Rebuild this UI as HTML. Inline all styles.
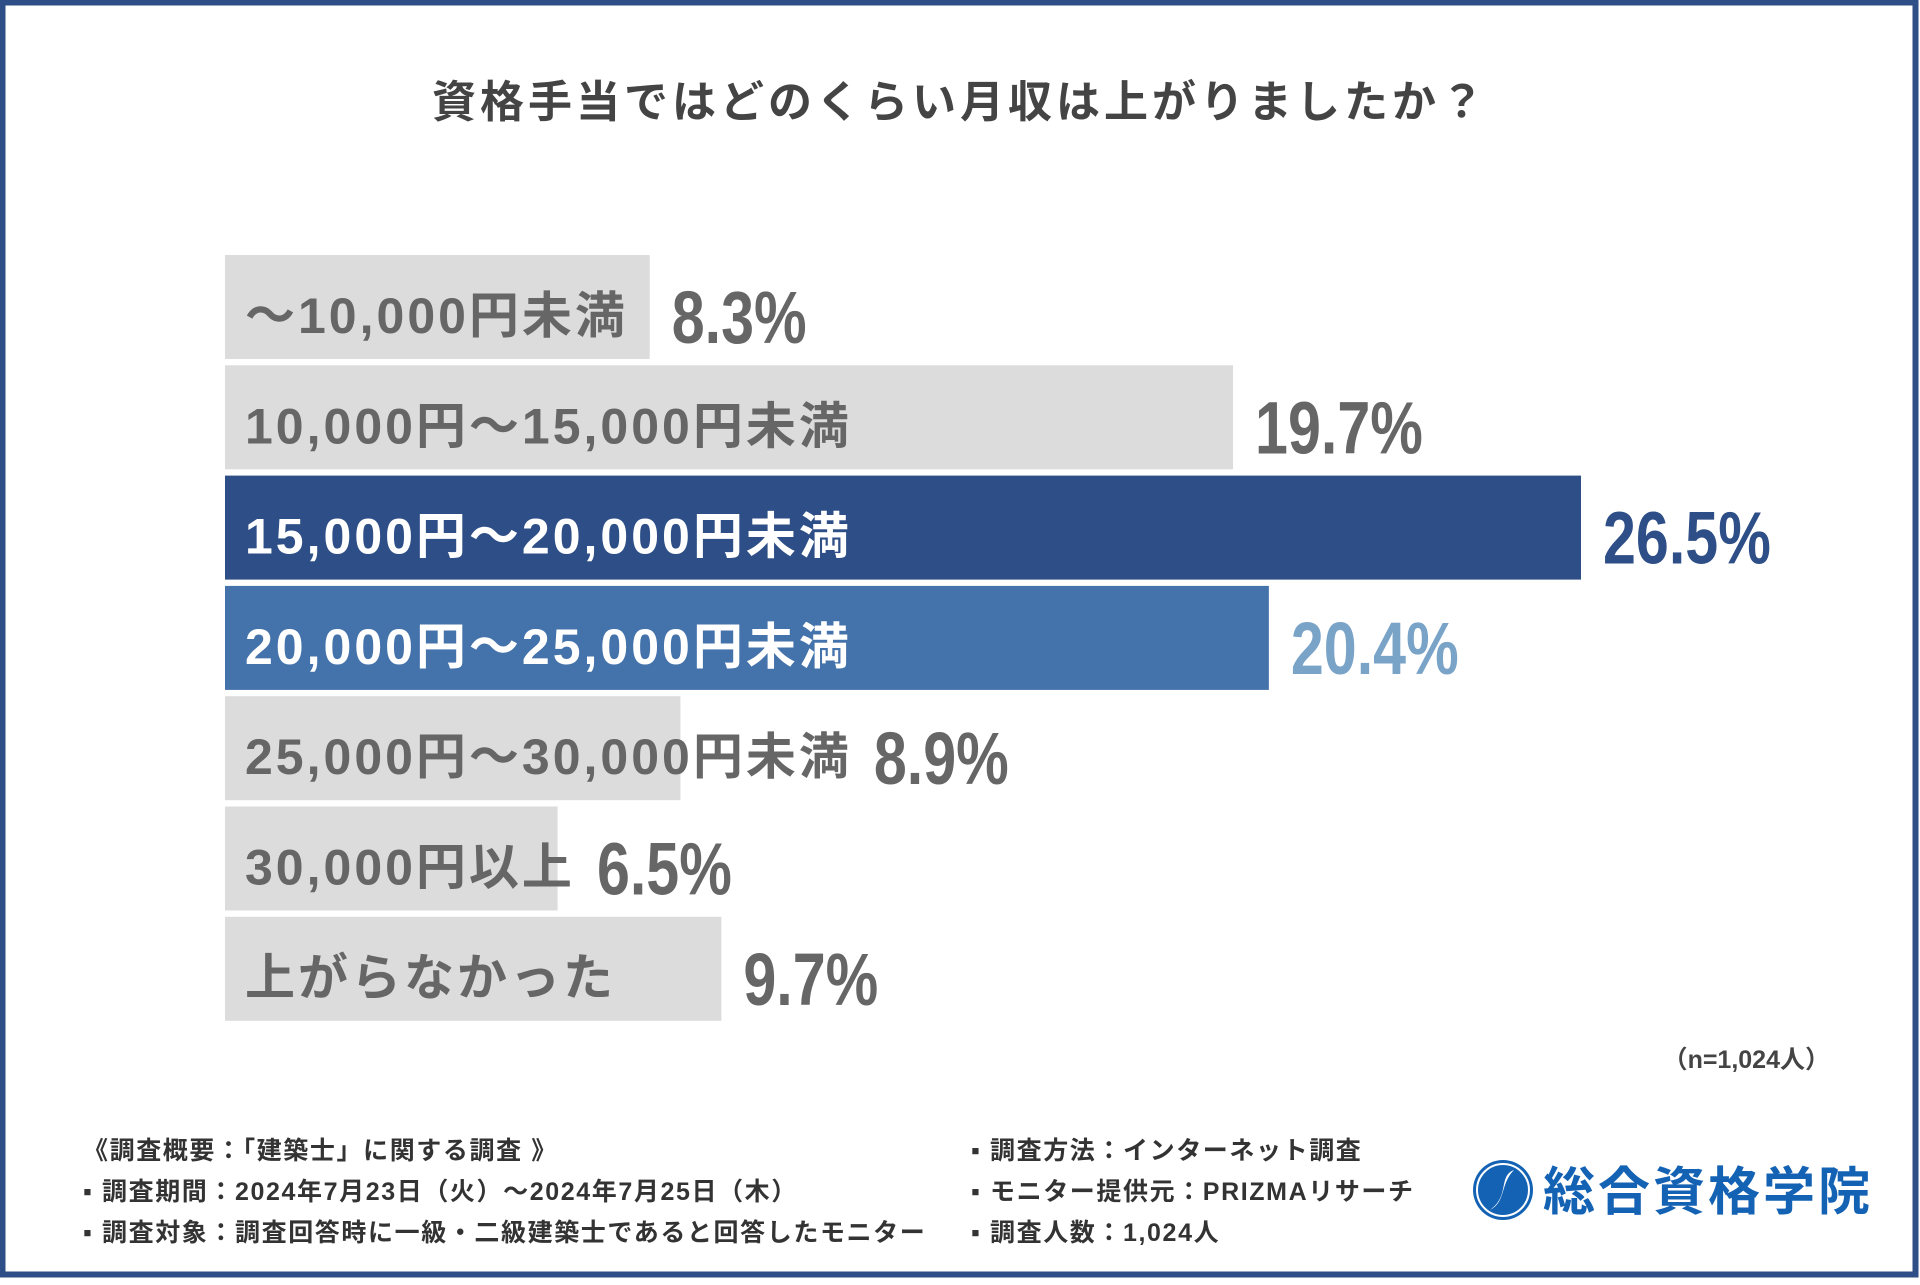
<!DOCTYPE html>
<html><head><meta charset="utf-8"><style>
html,body{margin:0;padding:0}
body{width:1920px;height:1280px;overflow:hidden;background:#fff;font-family:"Liberation Sans","Noto Sans CJK JP",sans-serif}
svg text{font-family:"Liberation Sans","Noto Sans CJK JP",sans-serif}
</style></head><body>
<svg id="chart" width="1920" height="1280" viewBox="0 0 1920 1280">
<rect x="2.5" y="2.5" width="1913" height="1272" fill="#fff" stroke="#2d4e86" stroke-width="6"/>
<text x="960" y="117" text-anchor="middle" font-size="44" letter-spacing="4" font-weight="bold" fill="#444">資格手当ではどのくらい月収は上がりましたか？</text>
<g id="bars"></g>
<text x="1830" y="1068" text-anchor="end" font-size="25" font-weight="bold" fill="#444">（n=1,024人）</text>
<g font-size="25" letter-spacing="1.6" font-weight="bold" fill="#333">
<text x="83" y="1159">《調査概要：「建築士」に関する調査 》</text>
<text x="83" y="1200">▪ 調査期間：2024年7月23日（火）～2024年7月25日（木）</text>
<text x="83" y="1241">▪ 調査対象：調査回答時に一級・二級建築士であると回答したモニター</text>
<text x="971" y="1159">▪ 調査方法：インターネット調査</text>
<text x="971" y="1200">▪ モニター提供元：PRIZMAリサーチ</text>
<text x="971" y="1241">▪ 調査人数：1,024人</text>
</g>
<g>
<circle cx="1503" cy="1190" r="30" fill="#1462b4"/>
<circle cx="1503" cy="1190" r="26" fill="none" stroke="#fff" stroke-width="2"/>
<path d="M1514 1170 C1498 1176 1510 1196 1490 1210 C1506 1202 1500 1184 1514 1170Z" fill="#fff"/>
<text x="1543" y="1210" font-size="52" letter-spacing="3" font-weight="bold" fill="#1462b4">総合資格学院</text>
</g>
</svg>
<script>
const categories=["～10,000円未満","10,000円～15,000円未満","15,000円～20,000円未満","20,000円～25,000円未満","25,000円～30,000円未満","30,000円以上","上がらなかった"];
const values=[8.3,19.7,26.5,20.4,8.9,6.5,9.7];
const valueLabels=["8.3%","19.7%","26.5%","20.4%","8.9%","6.5%","9.7%"];
const NS="http://www.w3.org/2000/svg";
const x0=225,pxPer=(1581-225)/26.5;
function xs(v){return x0+v*pxPer;}
function yb(i){return 255+i*110.3;}
const bh=104;
const fills=["#dcdcdc","#dcdcdc","#2d4e86","#4472aa","#dcdcdc","#dcdcdc","#dcdcdc"];
const tcol=["#666","#666","#fff","#fff","#666","#666","#666"];
const vcol=["#666","#666","#2d4e86","#7aa3c8","#666","#666","#666"];
const g=document.getElementById('bars');
categories.forEach((c,i)=>{
  const r=document.createElementNS(NS,'rect');
  r.setAttribute('x',x0);r.setAttribute('y',yb(i));r.setAttribute('width',xs(values[i])-x0);r.setAttribute('height',bh);r.setAttribute('fill',fills[i]);
  
  
  g.appendChild(r);
  const t=document.createElementNS(NS,'text');
  t.setAttribute('x',245);t.setAttribute('y',yb(i)+bh/2+26);t.setAttribute('font-size','50');t.setAttribute('letter-spacing','3');t.setAttribute('font-weight','bold');t.setAttribute('fill',tcol[i]);
  t.textContent=c;
  
  
  g.appendChild(t);
  const tEnd=245+t.getComputedTextLength();
  const bEnd=xs(values[i]);
  const vx=Math.max(tEnd,bEnd)+22;
  const v=document.createElementNS(NS,'text');
  v.setAttribute('x',0);v.setAttribute('y',0);v.setAttribute('font-size','74');v.setAttribute('font-weight','bold');v.setAttribute('fill',vcol[i]);
  v.setAttribute('transform','translate('+vx+','+(yb(i)+bh/2+36)+') scale(0.8,1)');
  v.textContent=valueLabels[i];
  
  
  g.appendChild(v);
});
</script>
</body></html>
